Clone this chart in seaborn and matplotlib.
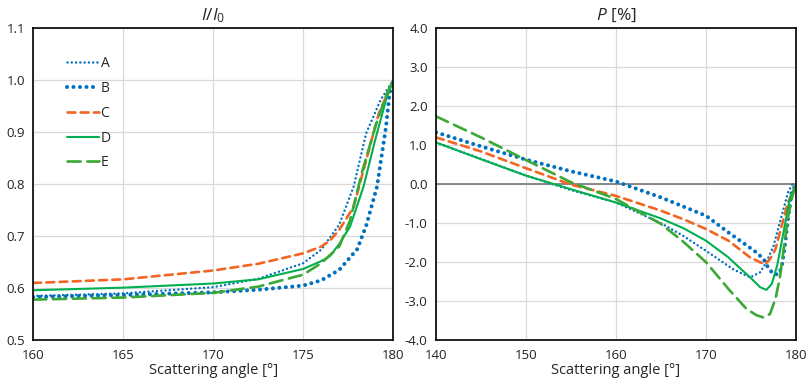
import matplotlib
matplotlib.use("Agg")
import matplotlib.pyplot as plt
import seaborn as sns
from matplotlib.ticker import FormatStrFormatter

sns.set_theme(style="white")
plt.rcParams["font.family"] = ["Open Sans", "DejaVu Sans"]
plt.rcParams["mathtext.fontset"] = "custom"
plt.rcParams["mathtext.it"] = "Open Sans:italic"
plt.rcParams["mathtext.rm"] = "Open Sans"

# ---- left panel: I/I0 ----
left_a_x = [160, 165, 170, 172.5, 175, 176, 177, 177.8, 178.5, 179.3, 180]
left_a_y = [0.585, 0.590, 0.602, 0.618, 0.648, 0.674, 0.722, 0.795, 0.898, 0.962, 1.0]
left_b_x = [160, 165, 170, 172.5, 175, 176, 177, 178, 178.5, 179.1, 179.6, 179.8, 180]
left_b_y = [0.583, 0.587, 0.592, 0.597, 0.605, 0.615, 0.635, 0.675, 0.72, 0.795, 0.91, 0.975, 1.0]
left_c_x = [160, 165, 170, 172.5, 175, 176, 176.5, 177, 177.8, 178.5, 179.2, 180]
left_c_y = [0.610, 0.617, 0.634, 0.647, 0.667, 0.68, 0.692, 0.712, 0.756, 0.846, 0.936, 1.0]
left_d_x = [160, 165, 170, 172.5, 175, 176, 176.5, 177, 177.6, 178.35, 179, 179.6, 180]
left_d_y = [0.596, 0.601, 0.609, 0.617, 0.637, 0.652, 0.662, 0.685, 0.718, 0.795, 0.885, 0.962, 1.0]
left_e_x = [160, 165, 170, 172.5, 175, 176, 177, 177.6, 178.3, 179, 179.6, 180]
left_e_y = [0.578, 0.582, 0.591, 0.603, 0.626, 0.648, 0.68, 0.73, 0.827, 0.91, 0.97, 1.0]

# ---- right panel: P [%] ----
right_a_x = [140, 145, 150, 155, 160, 165, 167.5, 170, 173, 174.9, 176, 176.7, 177.5, 178, 178.6, 179.1, 179.6, 180]
right_a_y = [1.07, 0.65, 0.22, -0.15, -0.47, -1.0, -1.33, -1.71, -2.18, -2.39, -2.26, -2.0, -1.58, -1.15, -0.64, -0.21, 0.0, 0]
right_b_x = [140, 145, 150, 155, 160, 165, 170, 172.5, 174.1, 175.6, 176.4, 176.9, 177.5, 178, 178.4, 178.8, 179.1, 179.5, 180]
right_b_y = [1.33, 0.97, 0.63, 0.33, 0.07, -0.34, -0.81, -1.24, -1.5, -1.75, -1.92, -2.14, -2.31, -2.31, -2.14, -1.5, -0.9, -0.21, 0]
right_c_x = [140, 145, 150, 155, 160, 165, 167.5, 170, 172.5, 174.9, 176, 176.6, 177.1, 177.7, 178.4, 179.1, 180]
right_c_y = [1.20, 0.84, 0.41, -0.01, -0.30, -0.68, -0.9, -1.15, -1.45, -1.88, -2.0, -2.05, -1.92, -1.67, -1.07, -0.47, 0]
right_d_x = [140, 145, 150, 155, 160, 165, 167.5, 170, 172.5, 173.7, 174.9, 176, 176.7, 177.3, 177.9, 178.6, 179.3, 180]
right_d_y = [1.07, 0.64, 0.22, -0.13, -0.47, -0.88, -1.13, -1.45, -1.88, -2.14, -2.39, -2.64, -2.71, -2.56, -2.09, -1.24, -0.38, 0]
right_e_x = [140, 145, 150, 155, 160, 165, 167.5, 170, 172.5, 174.5, 175.6, 176.4, 177.1, 177.7, 178.2, 178.6, 179.1, 179.6, 180]
right_e_y = [1.74, 1.20, 0.62, 0.05, -0.38, -1.02, -1.48, -2.0, -2.69, -3.2, -3.36, -3.42, -3.33, -2.95, -2.4, -1.7, -0.85, -0.3, 0]

labels = ["A", "B", "C", "D", "E"]
colors = ["#0070C0", "#0070C0", "#F26522", "#00B050", "#3AA935"]
widths = [1.8, 2.9, 1.9, 1.5, 1.9]
styles = [(0, (0.01, 1.7)), (0, (0.01, 1.6)), (0, (3, 2)), "-", (0, (5, 2.5))]

left_series = [(left_a_x, left_a_y), (left_b_x, left_b_y), (left_c_x, left_c_y),
               (left_d_x, left_d_y), (left_e_x, left_e_y)]
right_series = [(right_a_x, right_a_y), (right_b_x, right_b_y), (right_c_x, right_c_y),
                (right_d_x, right_d_y), (right_e_x, right_e_y)]

fig = plt.figure(figsize=(8.09, 3.87), dpi=100)
ax1 = fig.add_axes([0.041, 0.121, 0.445, 0.806])
ax2 = fig.add_axes([0.539, 0.121, 0.445, 0.806])

for ax, series in [(ax1, left_series), (ax2, right_series)]:
    for (xs, ys), lab, c, lw, ls in zip(series, labels, colors, widths, styles):
        sns.lineplot(x=xs, y=ys, ax=ax, color=c, lw=lw, linestyle=ls,
                     dash_capstyle="round", solid_capstyle="round",
                     solid_joinstyle="round",
                     label=lab if ax is ax1 else None, sort=False, estimator=None)

ax2.axhline(0, color="#808080", lw=1.3, zorder=1)

ax1.set_xlim(160, 180)
ax1.set_ylim(0.5, 1.1)
ax1.set_xticks(range(160, 181, 5))
ax1.set_yticks([0.5, 0.6, 0.7, 0.8, 0.9, 1.0, 1.1])
ax1.set_title("$I/I_0$", fontsize=12.5, pad=6)

ax2.set_xlim(140, 180)
ax2.set_ylim(-4, 4)
ax2.set_xticks(range(140, 181, 10))
ax2.set_yticks(range(-4, 5))
ax2.set_title("$P$ [%]", fontsize=12.5, pad=6)

for ax in (ax1, ax2):
    ax.yaxis.set_major_formatter(FormatStrFormatter("%.1f"))
    ax.grid(True, color="#d9d9d9", lw=0.9)
    ax.set_axisbelow(True)
    ax.tick_params(axis="both", length=0, labelsize=9.5, colors="#222222", pad=6)
    ax.set_xlabel("Scattering angle [°]", fontsize=10.5, labelpad=1)
    ax.set_ylabel("")
    for sp in ax.spines.values():
        sp.set_color("black")
        sp.set_linewidth(1.2)

leg = ax1.legend(loc="upper left", bbox_to_anchor=(0.06, 0.95), frameon=False,
                 fontsize=10, handlelength=2.3, handletextpad=0.1, labelspacing=0.7)
if ax2.get_legend():
    ax2.get_legend().remove()

fig.savefig("out.png", dpi=100)
